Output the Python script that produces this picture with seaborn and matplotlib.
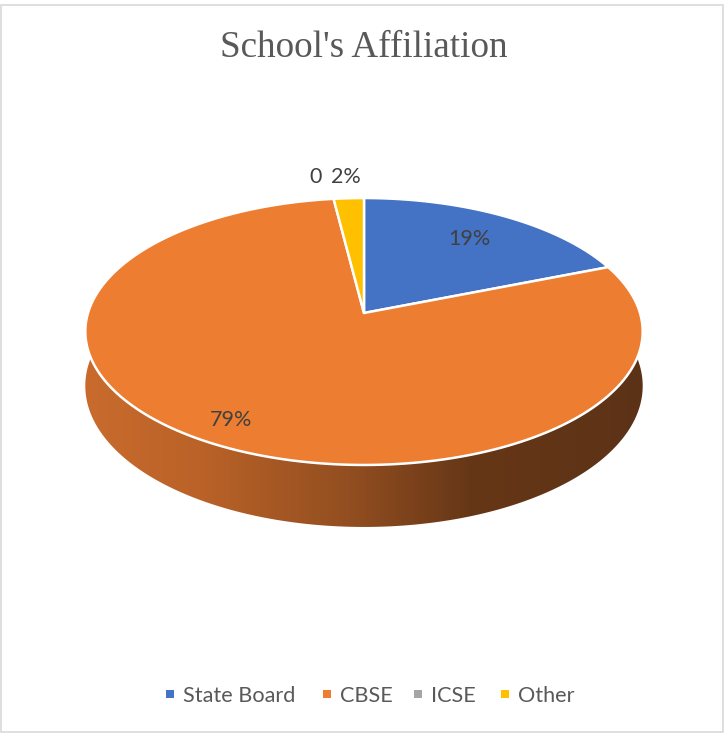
import numpy as np
import pandas as pd
import seaborn as sns
import matplotlib
matplotlib.use("Agg")
import matplotlib.pyplot as plt
from matplotlib.patches import Polygon, Rectangle

# ---- data -------------------------------------------------------------
categories = ["State Board", "CBSE", "ICSE", "Other"]
values = [19, 79, 0, 2]
label_texts = ["19%", "79%", "0", "2%"]
colors = ["#4472C4", "#ED7D31", "#A5A5A5", "#FFC000"]

# where each data label sits, as a fraction of the radius, plus a pixel nudge
label_radius = [0.74, 0.85, 1.22, 1.22]
label_nudge_x = [0, 0, -12, 0]

df = pd.DataFrame({"category": categories, "value": values,
                   "label": label_texts})

sns.set_theme(style="white")
palette = sns.color_palette(colors)

# ---- figure in pixel coordinates --------------------------------------
W, H = 725, 734
fig = plt.figure(figsize=(W / 100, H / 100), dpi=100)
ax = fig.add_axes([0, 0, 1, 1])
ax.set_xlim(0, W)
ax.set_ylim(H, 0)
ax.axis("off")

# perspective projection of the pie disk (u to the right, v away from viewer)
CX, CY = 364.0, 313.0
RX, RY = 276.0, 130.9
PERSP = 0.1386
THICK = 53.4


def project(u, v, drop=0.0):
    w = 1.0 + PERSP * v
    return CX + RX * u / w, CY - RY * v / w + drop / w


def angle_of(frac):
    # slices start at 12 o'clock and run clockwise
    return np.deg2rad(90.0 - 360.0 * frac)


total = df["value"].sum()
fracs = df["value"] / total
starts = np.concatenate([[0.0], np.cumsum(fracs.values)[:-1]])
ends = starts + fracs.values

# ---- side wall (front half) with a left-to-right shading gradient ------
t_side = np.linspace(np.pi * 0.97, np.pi * 2.03, 600)
top_edge = [project(np.cos(t), np.sin(t)) for t in t_side]
bottom_edge = [project(np.cos(t), np.sin(t), THICK) for t in t_side[::-1]]
side_poly = Polygon(top_edge + bottom_edge, closed=True, facecolor="none",
                    edgecolor="none", zorder=1)
ax.add_patch(side_poly)

shade_x = [85, 200, 350, 470, 645]
shade_rgb = np.array([(201, 107, 45), (186, 98, 40), (146, 78, 32),
                      (102, 55, 23), (92, 50, 22)]) / 255.0
gx = np.linspace(70, 660, 600)
grad = np.stack([np.interp(gx, shade_x, shade_rgb[:, k]) for k in range(3)],
                axis=-1)[None, :, :]
img = ax.imshow(grad, extent=(70, 660, 540, 300), aspect="auto",
                interpolation="bilinear", zorder=1)
img.set_clip_path(side_poly)

# ---- top face -----------------------------------------------------------
for i, row in df.iterrows():
    if row["value"] <= 0:
        continue
    a0, a1 = angle_of(starts[i]), angle_of(ends[i])
    ang = np.linspace(a0, a1, 200)
    pts = [project(0, 0)] + [project(np.cos(a), np.sin(a)) for a in ang]
    ax.add_patch(Polygon(pts, closed=True, facecolor=palette[i],
                         edgecolor="white", linewidth=1.8, zorder=3,
                         joinstyle="round"))

# ---- data labels ----------------------------------------------------------
for i, row in df.iterrows():
    mid = angle_of((starts[i] + ends[i]) / 2)
    r = label_radius[i]
    x, y = project(r * np.cos(mid), r * np.sin(mid))
    ax.text(x + label_nudge_x[i], y, row["label"], ha="center", va="center",
            fontsize=15.5, color="#404040", family=["Lato", "DejaVu Sans"],
            zorder=5)

# ---- title ----------------------------------------------------------------
ax.text(364, 48, "School's Affiliation", ha="center", va="center",
        fontsize=26.7, color="#595959",
        family=["Liberation Serif", "DejaVu Serif"])

# ---- legend ---------------------------------------------------------------
legend_marker_x = [170, 327, 418, 505]
legend_y = 694
for i, name in enumerate(categories):
    mx = legend_marker_x[i]
    ax.add_patch(Rectangle((mx - 4, legend_y - 4), 8, 8,
                           facecolor=palette[i], edgecolor="none", zorder=5))
    ax.text(mx + 13, legend_y + 1.5, name, ha="left", va="center",
            fontsize=15.6, color="#595959", family=["Lato", "DejaVu Sans"])

# ---- chart border -----------------------------------------------------------
ax.add_patch(Rectangle((1.5, 4.5), 721.5, 727, facecolor="none",
                       edgecolor="#D9D9D9", linewidth=1.2, zorder=6))

fig.savefig("out.png", dpi=100)
